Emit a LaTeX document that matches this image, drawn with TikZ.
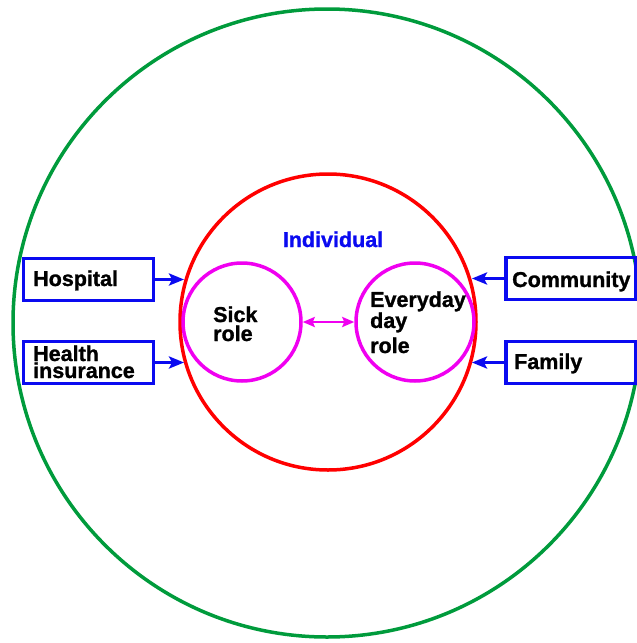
\documentclass[tikz,border=0pt]{standalone}
\usepackage{fontspec}
\setmainfont{Liberation Sans}
\newfontfamily\heavyfont{Liberation Sans Bold}[FakeBold=1.2]
\usetikzlibrary{arrows.meta}
\definecolor{cgreen}{RGB}{0,155,60}
\definecolor{cred}{RGB}{255,0,0}
\definecolor{cmag}{RGB}{240,0,240}
\definecolor{cblue}{RGB}{10,10,240}
\begin{document}
\begin{tikzpicture}[x=1pt,y=-1pt,
  ring/.style={circle, draw, line width=3.5pt, inner sep=0pt},
  factor/.style={draw=cblue, line width=3.3pt, minimum width=130pt, minimum height=42pt, inner sep=0pt},
  lbl/.style={font=\heavyfont\fontsize{21.5}{19}\selectfont, inner sep=0pt, anchor=base west, align=left},
  inarrow/.style={draw=cblue, line width=3pt, -{Stealth[length=15pt,width=12pt,inset=3pt]}},
  roles/.style={draw=cmag, line width=2.5pt, {Stealth[length=12pt,width=10pt,inset=2pt]}-{Stealth[length=12pt,width=10pt,inset=2pt]}},
]
\useasboundingbox (0,0) rectangle (637,643);
% circles
\node[ring, draw=cgreen, minimum size=628pt] (outer) at (327,323) {};
\node[ring, draw=cred, minimum size=296pt] (indiv) at (328,322) {};
\node[ring, draw=cmag, minimum size=118pt] (sick) at (242,322) {};
\node[ring, draw=cmag, minimum size=118pt] (every) at (415,322) {};
% boxes
\node[factor] (hosp) at (88.5,279.5) {};
\node[factor] (health) at (88.5,362.5) {};
\node[factor] (comm) at (571,278.5) {};
\node[factor] (fam) at (571,362.5) {};
% texts (base anchor = baseline of last line)
\node[lbl] (hosptxt) at (33,286) {Hospital};
\node[lbl, font=\heavyfont\fontsize{21.5}{17}\selectfont] (healthtxt) at (33,378) {Health\\insurance};
\node[lbl] (commtxt) at (512,287) {Community};
\node[lbl] (famtxt) at (514,369) {Family};
\node[lbl, anchor=base, text=cblue] (indivtxt) at (333,247) {Individual};
\node[lbl] (sicktxt) at (213,341) {Sick\\role};
\node[lbl] (evtxt) at (370,353) {Everyday\\day\\[4pt]role};
% connectors
\draw[inarrow] (hosp.east) -- (hosp.east -| indiv.164);
\draw[inarrow] (health.east) -- (health.east -| indiv.196);
\draw[inarrow] (comm.west) -- (comm.west -| indiv.16);
\draw[inarrow] (fam.west) -- (fam.west -| indiv.344);
\draw[roles] (sick.east) -- (every.west);
\end{tikzpicture}
\end{document}
